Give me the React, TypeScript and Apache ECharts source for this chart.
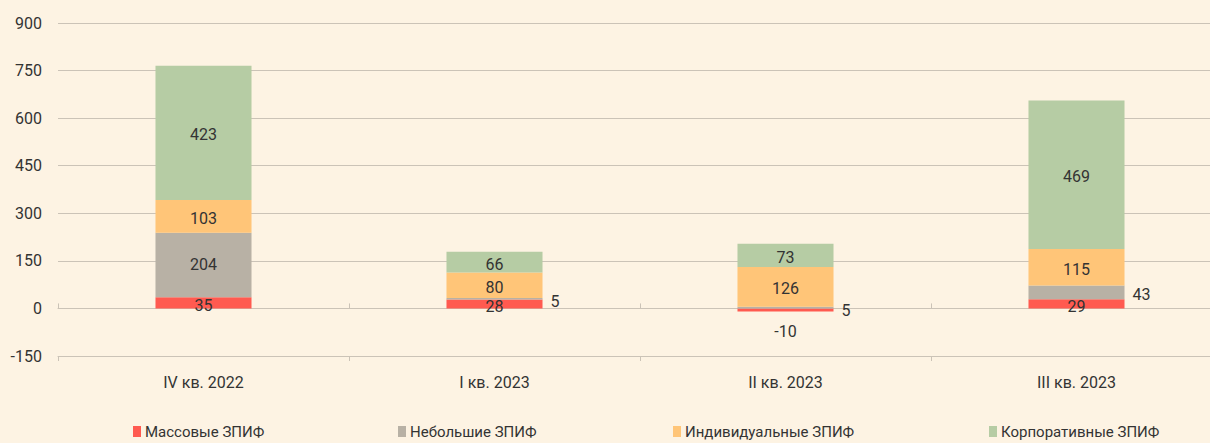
import React, { useEffect, useRef } from "react";
import * as echarts from "echarts";

const categories = ["IV кв. 2022", "I кв. 2023", "II кв. 2023", "III кв. 2023"];
const seriesNames = ["Массовые ЗПИФ", "Небольшие ЗПИФ", "Индивидуальные ЗПИФ", "Корпоративные ЗПИФ"];
const massValues = [35, 28, -10, 29];
const smallValues = [204, 5, 5, 43];
const individualValues = [103, 80, 126, 115];
const corporateValues = [423, 66, 73, 469];
const yTicks = { min: -150, max: 900, interval: 150 };

const colors = ["#FF5A50", "#B8B1A5", "#FFC578", "#B6CCA4"];
const textColor = "#333333";
const gridColor = "#CBC3B7";
const font = "Roboto";

export default function App() {
  const ref = useRef<HTMLDivElement>(null);
  useEffect(() => {
    if (!ref.current) return;
    document.body.style.overflow = "hidden";
    document.body.style.margin = "0";
    const chart = echarts.init(ref.current, null, { renderer: "svg" });

    const baseLabel = { show: true, color: textColor, fontSize: 16, fontFamily: font };

    const massData = massValues.map((v) =>
      v < 0
        ? { value: v, label: { ...baseLabel, position: "bottom", distance: 12 } }
        : { value: v, label: { ...baseLabel, position: "inside", offset: [0, 3] } }
    );
    const smallData = smallValues.map((v) =>
      v < 60
        ? { value: v, label: { ...baseLabel, position: "right", distance: 8, offset: [0, v < 10 ? 3 : 2] } }
        : { value: v, label: { ...baseLabel, position: "inside" } }
    );
    const simple = (arr: number[]) =>
      arr.map((v) => ({ value: v, label: { ...baseLabel, position: "inside", offset: [0, 2] } }));

    const allData = [massData, smallData, simple(individualValues), simple(corporateValues)];

    const series = seriesNames.map((name, i) => ({
      name,
      type: "bar",
      stack: "total",
      barWidth: "33%",
      xAxisIndex: 0,
      itemStyle: { color: colors[i] },
      data: allData[i],
    }));

    const legendLefts = [133, 398, 673, 989];
    const legends = seriesNames.map((name, i) => ({
      data: [name],
      left: legendLefts[i],
      top: 424,
      padding: 0,
      itemWidth: 8,
      itemHeight: 11,
      itemGap: 5,
      icon: "rect",
      textStyle: { color: textColor, fontSize: 15, fontFamily: font, padding: [0, 0, 0, -1] },
      selectedMode: false,
    }));

    const tickAxis = (inside: boolean) => ({
      type: "category",
      data: categories,
      position: "bottom",
      axisLine: { show: true, onZero: true, lineStyle: { color: gridColor, width: 1 } },
      axisTick: { show: true, inside, length: 5, lineStyle: { color: gridColor } },
      axisLabel: { show: false },
      splitLine: { show: false },
    });

    chart.setOption({
      animation: false,
      backgroundColor: "#FDF3E3",
      textStyle: { fontFamily: font },
      grid: { left: 58, right: 0, top: 23, bottom: 87, containLabel: false },
      legend: legends,
      xAxis: [
        {
          type: "category",
          data: categories,
          position: "bottom",
          axisLine: { show: false, onZero: false },
          axisTick: { show: false },
          axisLabel: { color: textColor, fontSize: 16, fontFamily: font, margin: 18 },
        },
        tickAxis(true),
        tickAxis(false),
      ],
      yAxis: {
        type: "value",
        min: yTicks.min,
        max: yTicks.max,
        interval: yTicks.interval,
        axisLine: { show: false },
        axisTick: { show: false },
        axisLabel: { color: textColor, fontSize: 16, fontFamily: font, margin: 16 },
        splitLine: { lineStyle: { color: gridColor, width: 1 } },
      },
      series,
    });
    return () => chart.dispose();
  }, []);

  return (
    <div style={{ width: 1210, height: 443, overflow: "hidden", position: "absolute", left: 0, top: 0 }}>
      <div ref={ref} style={{ width: 1222, height: 443 }} />
    </div>
  );
}
